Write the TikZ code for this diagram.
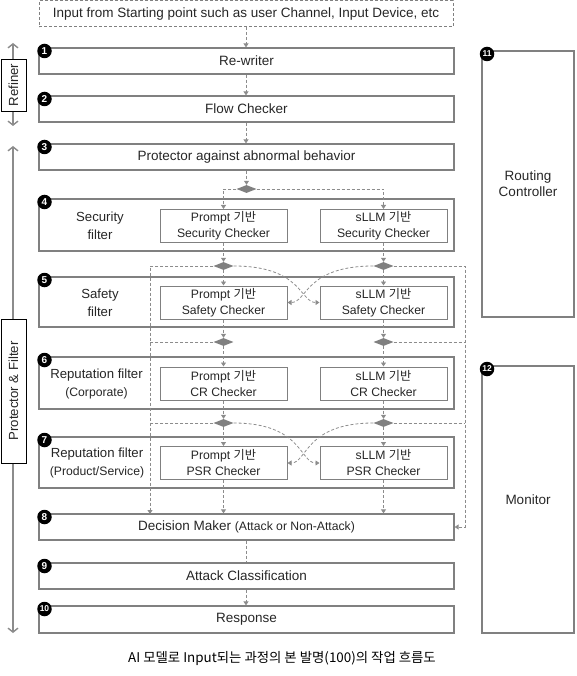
\documentclass[tikz,border=0pt]{standalone}
\usepackage{fontspec}
\setmainfont{Liberation Sans}
\newfontfamily\kr{Noto Sans CJK KR}
\usetikzlibrary{arrows.meta,shapes.geometric}
\definecolor{bgray}{HTML}{808080}
\definecolor{lgray}{HTML}{8C8C8C}
\definecolor{tgray}{HTML}{262626}
\newcommand\fmain{\fontsize{13.5}{16}\selectfont}
\newcommand\finner{\fontsize{12.2}{16}\selectfont}
\newcommand\flabel{\fontsize{13.2}{18}\selectfont}
\newcommand\fparen{\fontsize{12.2}{17}\selectfont}
\begin{document}
\begin{tikzpicture}[x=1pt,y=-1pt,
  txt/.style={text=tgray, font=\fmain},
  mainbox/.style={txt, draw=bgray, line width=1.2pt, inner sep=0pt, minimum width=415pt},
  inbox/.style={text=tgray, font=\finner, draw=bgray, line width=1pt, inner sep=0pt, minimum width=127pt, minimum height=33pt, align=center},
  lbl/.style={text=tgray, font=\flabel, align=center},
  badge/.style={circle, fill=black, text=white, inner sep=0pt, minimum size=14.5pt, font=\fontsize{10}{10}\selectfont\bfseries},
  badgetwo/.style={badge, font=\fontsize{8.5}{8.5}\selectfont\bfseries},
  dflow/.style={draw=lgray, line width=0.8pt, dash pattern=on 3pt off 2pt},
  tip/.style={-{Triangle[width=5pt,length=4pt]}},
  dia/.style={diamond, fill=bgray, aspect=2.5, inner sep=0pt, minimum width=20pt, minimum height=8pt},
  side/.style={draw=lgray, line width=1.4pt, {Straight Barb[length=4pt,width=10pt]}-{Straight Barb[length=4pt,width=10pt]}},
  sidelabel/.style={draw=black, line width=0.8pt, fill=white, rotate=90, inner sep=0pt, minimum height=25pt, text=tgray, font=\flabel}
]
\useasboundingbox (0,0) rectangle (576,676);

% input
\node[txt, draw=bgray, line width=1pt, dash pattern=on 3pt off 2pt, minimum width=414pt, minimum height=26pt, inner sep=0pt] (in) at (246,14) {Input from Starting point such as user Channel, Input Device, etc};

% main boxes
\node[mainbox, minimum height=26pt] (b1) at (246.5,61) {Re-writer};
\node[mainbox, minimum height=26pt] (b2) at (246.5,109) {Flow Checker};
\node[mainbox, minimum height=26pt] (b3) at (246.5,157) {Protector against abnormal behavior};
\node[mainbox, minimum height=52pt] (b4) at (246.5,225) {};
\node[mainbox, minimum height=50pt] (b5) at (246.5,302) {};
\node[mainbox, minimum height=52pt] (b6) at (246.5,383) {};
\node[mainbox, minimum height=51pt] (b7) at (246.5,462.5) {};
\node[mainbox, minimum height=26pt] (b8) at (246.5,527) {Decision Maker {\fparen(Attack or Non-Attack)}};
\node[mainbox, minimum height=26pt] (b9) at (246.5,576) {Attack Classification};
\node[mainbox, minimum height=27pt] (b10) at (246.5,619.5) {Response};

% filter labels
\node[lbl] (l4) at (100,226) {Security\\filter};
\node[lbl] (l5) at (100,302.5) {Safety\\filter};
\node[lbl] (l6) at (96.5,383.5) {Reputation filter\\{\fparen(Corporate)}};
\node[lbl] (l7) at (97,463) {Reputation filter\\{\fparen(Product/Service)}};

% inner boxes
\node[inbox] (p4) at (223.5,226) {Prompt {\kr 기반}\\Security Checker};
\node[inbox] (s4) at (383.5,226) {sLLM {\kr 기반}\\Security Checker};
\node[inbox] (p5) at (223.5,302.5) {Prompt {\kr 기반}\\Safety Checker};
\node[inbox] (s5) at (383.5,302.5) {sLLM {\kr 기반}\\Safety Checker};
\node[inbox] (p6) at (223.5,383.5) {Prompt {\kr 기반}\\CR Checker};
\node[inbox] (s6) at (383.5,383.5) {sLLM {\kr 기반}\\CR Checker};
\node[inbox] (p7) at (223.5,463) {Prompt {\kr 기반}\\PSR Checker};
\node[inbox] (s7) at (383.5,463) {sLLM {\kr 기반}\\PSR Checker};

% right boxes
\node[txt, draw=bgray, line width=1.2pt, minimum width=92pt, minimum height=266pt, inner sep=0pt, align=center] (rc) at (528,184) {Routing\\Controller};
\node[txt, draw=bgray, line width=1.2pt, minimum width=92pt, minimum height=267pt, inner sep=0pt] (mon) at (528,499.5) {Monitor};

% diamonds
\node[dia] (d0) at (246.5,189) {};
\node[dia] (dl4) at (223.5,266) {};
\node[dia] (dr4) at (383.5,266) {};
\node[dia] (dl5) at (223.5,342) {};
\node[dia] (dr5) at (383.5,342) {};
\node[dia] (dl6) at (223.5,423) {};
\node[dia] (dr6) at (383.5,423) {};

\coordinate (lft) at (150,514);
\coordinate (rgt) at (465,527);

% flow connectors
\draw[dflow, tip] (in.south -| 246,0) -- (b1.north -| 246,0);
\draw[dflow, tip] (b1.south -| 246,0) -- (b2.north -| 246,0);
\draw[dflow, tip] (b2.south -| 246,0) -- (b3.north -| 246,0);
\draw[dflow, tip] (b3.south -| d0) -- (d0.north);
\draw[dflow, tip] (d0.west) -| (p4.north);
\draw[dflow, tip] (d0.east) -| (s4.north);

\draw[dflow, tip] (p4.south) -- (dl4.north);
\draw[dflow, tip] (s4.south) -- (dr4.north);
\draw[dflow, tip] (dl4.south) -- (p5.north);
\draw[dflow, tip] (dr4.south) -- (s5.north);
\draw[dflow, tip] (dl4.west) -| (lft);
\draw[dflow, tip] (dr4.east) -| (rgt) -- (b8.east);
\draw[dflow, tip] (dl4.east) .. controls (302,266) and (300,302.5) .. (s5.west);
\draw[dflow, tip] (dr4.west) .. controls (305,266) and (307,302.5) .. (p5.east);

\draw[dflow, tip] (p5.south) -- (dl5.north);
\draw[dflow, tip] (s5.south) -- (dr5.north);
\draw[dflow, tip] (dl5.south) -- (p6.north);
\draw[dflow, tip] (dr5.south) -- (s6.north);
\draw[dflow] (dl5.west) -- (dl5.west -| lft);
\draw[dflow] (dr5.east) -- (dr5.east -| rgt);

\draw[dflow, tip] (p6.south) -- (dl6.north);
\draw[dflow, tip] (s6.south) -- (dr6.north);
\draw[dflow, tip] (dl6.south) -- (p7.north);
\draw[dflow, tip] (dr6.south) -- (s7.north);
\draw[dflow] (dl6.west) -- (dl6.west -| lft);
\draw[dflow] (dr6.east) -- (dr6.east -| rgt);
\draw[dflow, tip] (dl6.east) .. controls (302,423) and (300,463) .. (s7.west);
\draw[dflow, tip] (dr6.west) .. controls (305,423) and (307,463) .. (p7.east);

\draw[dflow, tip] (p7.south) -- (p7.south |- b8.north);
\draw[dflow, tip] (s7.south) -- (s7.south |- b8.north);
\draw[dflow] (b8.south -| 246,0) -- (b9.north -| 246,0);
\draw[dflow, tip] (b9.south -| 246,0) -- (b10.north -| 246,0);

% side arrows and labels
\coordinate (ra) at (13,43);
\coordinate (rb) at (13,126);
\coordinate (pa) at (13,146);
\coordinate (pb) at (13,633);
\draw[side] (ra) -- (rb);
\draw[side] (pa) -- (pb);
\node[sidelabel, minimum width=52pt] (ref) at (13.5,85) {Refiner};
\node[sidelabel, minimum width=144pt] (pf) at (13.5,391) {Protector \& Filter};

% badges
\node[badge] (n1) at (44.5,51) {1};
\node[badge] (n2) at (44.5,99) {2};
\node[badge] (n3) at (44.5,147) {3};
\node[badge] (n4) at (44.5,202) {4};
\node[badge] (n5) at (44.5,280) {5};
\node[badge] (n6) at (44.5,360) {6};
\node[badge] (n7) at (44.5,440) {7};
\node[badge] (n8) at (44.5,517) {8};
\node[badge] (n9) at (44.5,566) {9};
\node[badgetwo] (n10) at (44.5,609) {10};
\node[badgetwo] (n11) at (487,54) {11};
\node[badgetwo] (n12) at (487,369) {12};

% caption
\node[text=black, font=\kr\fontsize{13.4}{15}\selectfont] (cap) at (282,658) {AI 모델로 Input되는 과정의 본 발명(100)의 작업 흐름도};
\end{tikzpicture}
\end{document}
